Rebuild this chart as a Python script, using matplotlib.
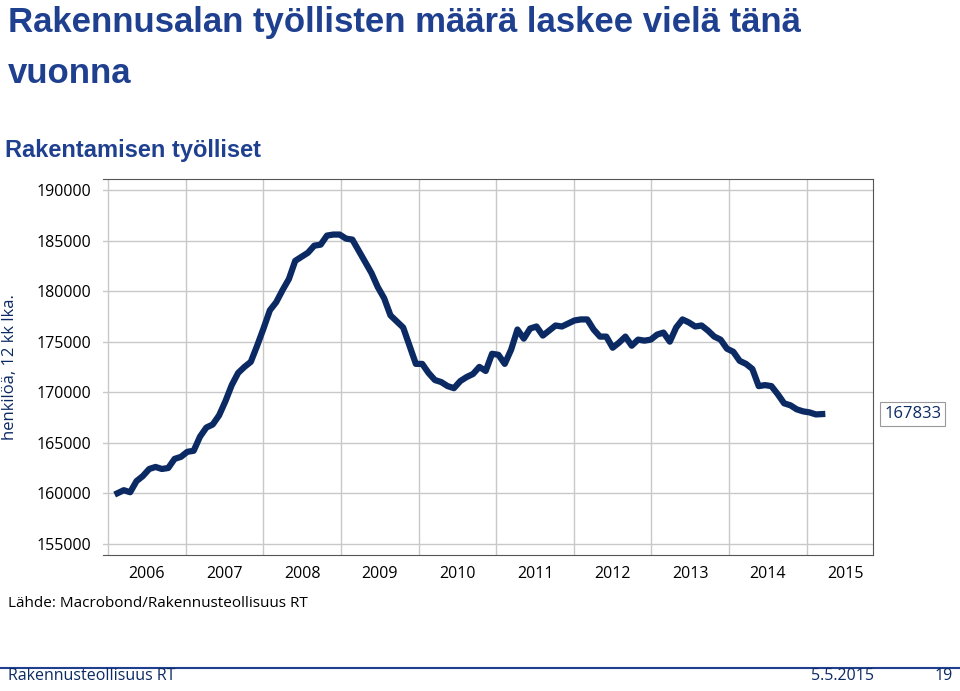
import numpy as np
import matplotlib.pyplot as plt
from matplotlib.lines import Line2D

# monthly employment values (12 month moving average)
values = [160000,160300,160100,161200,161700,162400,162600,162400,162500,163400,163600,164100,
          164200,165600,166500,166800,167700,169100,170700,171900,172500,173000,174600,176300,
          178100,178900,180100,181200,183000,183400,183800,184500,184600,185500,185600,185600,
          185200,185100,184000,182900,181800,180400,179300,177600,177000,176400,174600,172800,
          172800,171900,171200,171000,170600,170400,171100,171500,171800,172500,172100,173800,
          173700,172800,174200,176200,175300,176300,176500,175600,176100,176600,176500,176800,
          177100,177200,177200,176200,175500,175500,174400,174900,175500,174600,175200,175100,
          175200,175700,175900,175000,176400,177200,176900,176500,176600,176100,175500,175200,
          174300,174000,173100,172800,172300,170600,170700,170600,169800,168900,168700,168300,
          168100,168000,167800,167833]
years = list(range(2006, 2016))
yticks = list(range(155000, 190001, 5000))
last_label = "167833"

navy = "#0B2A63"
blue = "#1F3F8F"
plt.rcParams["font.family"] = "Open Sans"

fig = plt.figure(figsize=(9.6, 6.91), dpi=100)
ax = fig.add_axes([0.107, 0.197, 0.802, 0.544])
x = np.linspace(2006.12, 2015.2, len(values))
ax.plot(x, values, color=navy, lw=4.5, solid_joinstyle="round")
ax.set_xlim(2005.93, 2015.85)
ax.set_ylim(153900, 191100)
ax.set_yticks(yticks)
ax.set_yticklabels([str(t) for t in yticks], fontsize=11.5)
ax.set_xticks(years, minor=False)
ax.set_xticklabels([])
ax.set_xticks([y + 0.5 for y in years], minor=True)
ax.set_xticklabels([str(y) for y in years], minor=True, fontsize=11.5)
ax.tick_params(which="both", length=0, pad=8)
ax.grid(True, which="major", color="#C8C8C8", lw=1)
for s in ax.spines.values():
    s.set_color("#555555")
ax.spines["left"].set_visible(False)
ax.set_ylabel("henkilöä, 12 kk lka.", fontsize=12, color=navy)
ax.yaxis.set_label_coords(-0.11, 0.5)
ax.text(1.015, 0.375, last_label, transform=ax.transAxes, fontsize=12, color=navy, va="center",
        bbox=dict(fc="white", ec="#999999", lw=0.8, pad=3))

fig.text(0.008, 0.968, "Rakennusalan työllisten määrä laskee vielä tänä", fontsize=25,
         fontweight="bold", color=blue, va="center", family="Liberation Sans")
fig.text(0.008, 0.893, "vuonna", fontsize=25, fontweight="bold", color=blue, va="center",
         family="Liberation Sans")
fig.text(0.005, 0.782, "Rakentamisen työlliset", fontsize=17, fontweight="bold", color=blue,
         va="center", family="Liberation Sans")
fig.text(0.008, 0.127, "Lähde: Macrobond/Rakennusteollisuus RT", fontsize=11, va="center")
fig.add_artist(Line2D([0, 1], [0.033, 0.033], color=blue, lw=1.5, transform=fig.transFigure))
fig.text(0.008, 0.01, "Rakennusteollisuus RT", fontsize=11.5, color=navy, va="bottom")
fig.text(0.845, 0.01, "5.5.2015", fontsize=11.5, color=navy, va="bottom")
fig.text(0.992, 0.01, "19", fontsize=11.5, color=navy, va="bottom", ha="right")

fig.savefig("out.png", dpi=100)
